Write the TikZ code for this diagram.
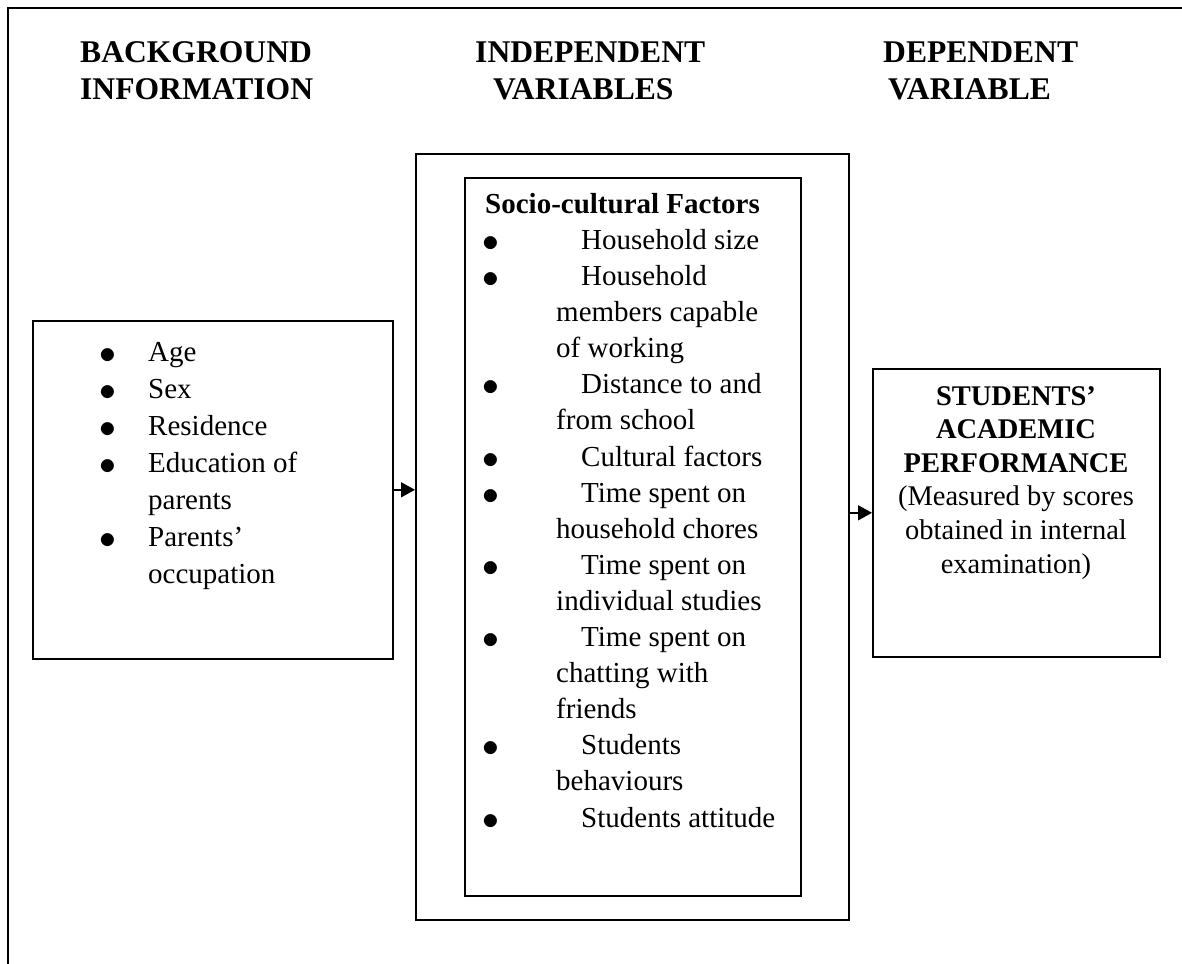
\documentclass[tikz,border=0pt]{standalone}
\usepackage{fontspec}
\usepackage{graphicx}
\setmainfont{Liberation Serif}
\usetikzlibrary{positioning, arrows.meta}

% bullet columns for the two lists
\newcommand{\bigbul}{\raisebox{-2pt}{\scalebox{1.35}{$\bullet$}}}
\newcommand{\lbul}{\makebox[49pt][l]{\bigbul}}
\newcommand{\lcont}{\hspace*{49pt}}
\newcommand{\mbul}{\makebox[99pt][l]{\bigbul}}
\newcommand{\mcont}{\hspace*{74pt}}

\begin{document}
\begin{tikzpicture}[
      x=1pt, y=-1pt,
      frame/.style={line width=2.4pt},
      box/.style={draw, line width=1.6pt, anchor=north west, inner sep=0pt},
      head/.style={font=\fontsize{31.6pt}{37.5pt}\selectfont\bfseries, align=left, anchor=base west, inner sep=0pt},
      list/.style={font=\fontsize{29pt}{37pt}\selectfont, align=left, anchor=base west, inner sep=0pt},
      >={Triangle[length=14pt, width=15pt]},
    ]
    \useasboundingbox (0,0) rectangle (1182,963);
    \draw[frame] (8,990) |- (1200,8);

    % column headings (anchored on the last baseline)
    \node[head] (bghead) at (80,100) {BACKGROUND\\INFORMATION};
    \node[head] (ivhead) at (475,100) {INDEPENDENT\\\hspace*{18pt}VARIABLES};
    \node[head] (dvhead) at (883,100) {DEPENDENT\\\hspace*{5pt}VARIABLE};

    % boxes
    \node[box, minimum width=360pt, minimum height=338pt] (bg) at (32,320) {};
    \node[box, minimum width=433pt, minimum height=766pt] (iv) at (415,153) {};
    \node[box, minimum width=336pt, minimum height=718pt] (sc) at (464,177) {};
    \node[box, minimum width=287pt, minimum height=288pt] (dv) at (872,368) {};

    \node[list] (bglist) at (99,583) {\lbul Age\\\lbul Sex\\\lbul Residence\\\lbul Education of\\\lcont parents\\\lbul Parents’\\\lcont occupation};
    \node[list, font=\fontsize{29pt}{36.1pt}\selectfont] (sclist) at (482,827) {\hspace*{3pt}\textbf{Socio-cultural Factors}\\
      \mbul Household size\\
      \mbul Household\\\mcont members capable\\\mcont of working\\
      \mbul Distance to and\\\mcont from school\\
      \mbul Cultural factors\\
      \mbul Time spent on\\\mcont household chores\\
      \mbul Time spent on\\\mcont individual studies\\
      \mbul Time spent on\\\mcont chatting with\\\mcont friends\\
      \mbul Students\\\mcont behaviours\\
      \mbul Students attitude};
    \node[list, font=\fontsize{28.5pt}{33.6pt}\selectfont, align=center, anchor=base] (dvtext) at (1016,573) {\textbf{STUDENTS’}\\\textbf{ACADEMIC}\\\textbf{PERFORMANCE}\\(Measured by scores\\obtained in internal\\examination)};

    \draw[->, line width=1.6pt] (bg.east) -- (bg.east -| iv.west);
    \draw[->, line width=1.6pt] (iv.east |- dv.west) -- (dv.west);
  \end{tikzpicture}
\end{document}
